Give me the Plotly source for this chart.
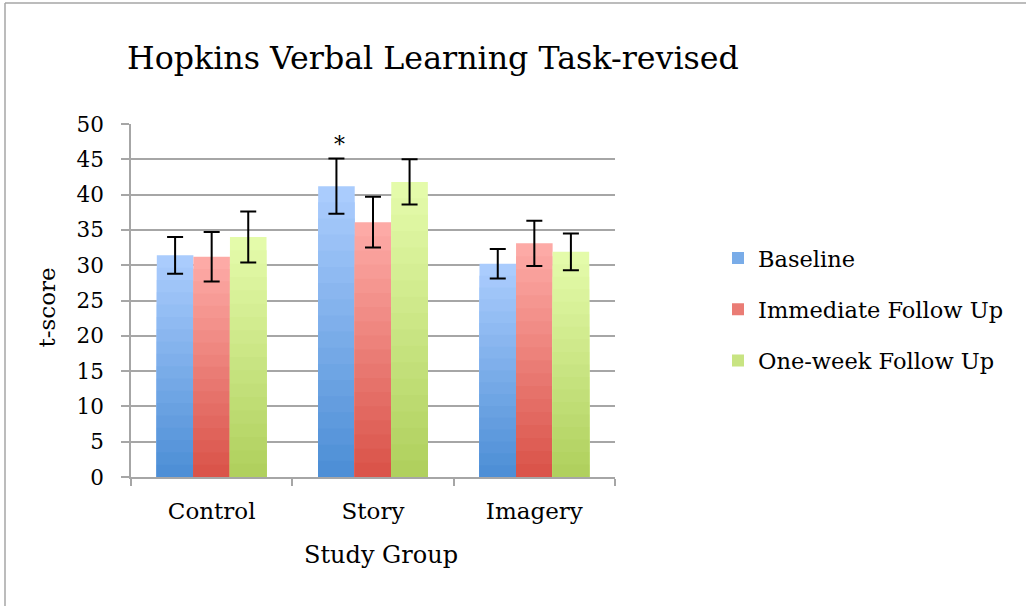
import plotly.graph_objects as go

categories = ["Control", "Story", "Imagery"]
series_names = ["Baseline", "Immediate Follow Up", "One-week Follow Up"]
baseline = [31.4, 41.2, 30.2]
immediate = [31.2, 36.1, 33.1]
one_week = [34.0, 41.8, 31.9]
baseline_err = [2.6, 3.9, 2.1]
immediate_err = [3.5, 3.6, 3.2]
one_week_err = [3.6, 3.2, 2.6]
y_ticks = [0, 5, 10, 15, 20, 25, 30, 35, 40, 45, 50]

values = [baseline, immediate, one_week]
errors = [baseline_err, immediate_err, one_week_err]
top_colors = [(170, 204, 253), (253, 170, 166), (228, 251, 170)]
bottom_colors = [(78, 143, 214), (218, 84, 74), (176, 208, 94)]

FONT = "DejaVu Serif"
N = 18
BARGAP = 0.32
L, R, T, B = 131, 411, 124, 129
W, H = 1026, 606
plot_w = W - L - R
plot_h = H - T - B

fig = go.Figure()
for s, name in enumerate(series_names):
    tc, bc = top_colors[s], bottom_colors[s]
    for k in range(N):
        f = (N - k) / N
        t = k / (N - 1)
        col = tuple(round(tc[i] + (bc[i] - tc[i]) * t) for i in range(3))
        fig.add_trace(go.Bar(
            x=categories,
            y=[v * f for v in values[s]],
            name=name,
            legendgroup=name,
            offsetgroup=str(s),
            showlegend=(k == N // 2),
            marker=dict(color="rgb(%d,%d,%d)" % col, line=dict(width=0)),
            hoverinfo="skip",
        ))
    fig.add_trace(go.Bar(
        x=categories,
        y=values[s],
        name=name,
        legendgroup=name,
        offsetgroup=str(s),
        showlegend=False,
        marker=dict(color="rgba(0,0,0,0)", line=dict(width=0)),
        error_y=dict(type="data", array=errors[s], visible=True,
                     color="black", thickness=2, width=8),
    ))

bar_w = plot_w / len(categories) * (1 - BARGAP) / 3

fig.add_annotation(
    x="Story", y=baseline[1] + baseline_err[1], text="*",
    showarrow=False, yanchor="bottom", xshift=-bar_w + 3, yshift=0,
    font=dict(family=FONT, size=22, color="black"),
)

fig.add_annotation(
    x=0.5, y=-0.22, xref="paper", yref="paper", text="Study Group",
    showarrow=False, xanchor="center", yanchor="middle", xshift=8,
    font=dict(family=FONT, size=24, color="black"),
)
fig.add_annotation(
    x=(47 - L) / plot_w, y=0.48, xref="paper", yref="paper", text="t-score", textangle=-90,
    showarrow=False, xanchor="center", yanchor="middle",
    font=dict(family=FONT, size=23, color="black"),
)

# chart border (left and top edges visible in reference)
bx = (5 - L) / plot_w
by = (H - B - 3) / plot_h
fig.add_shape(type="line", xref="paper", yref="paper",
              x0=bx, x1=bx, y0=-0.5, y1=by,
              line=dict(color="#a6a6a6", width=1.5))
fig.add_shape(type="line", xref="paper", yref="paper",
              x0=bx, x1=1.9, y0=by, y1=by,
              line=dict(color="#a6a6a6", width=1.5))

fig.update_layout(
    width=W, height=H,
    margin=dict(l=L, r=R, t=T, b=B),
    paper_bgcolor="white", plot_bgcolor="white",
    barmode="group", bargap=BARGAP, bargroupgap=0,
    font=dict(family=FONT, size=22, color="black"),
    title=dict(text="Hopkins Verbal Learning Task-revised",
               x=127 / W, xanchor="left", xref="container",
               y=1 - 58 / H, yanchor="middle", yref="container",
               font=dict(family=FONT, size=31.7, color="black")),
    legend=dict(x=(718 - L) / plot_w, xanchor="left", y=0.475, yanchor="middle",
                traceorder="grouped", tracegroupgap=19,
                font=dict(family=FONT, size=22.5, color="black"),
                bgcolor="rgba(0,0,0,0)"),
    showlegend=True,
)
fig.update_xaxes(
    showline=True, linecolor="#a6a6a6", linewidth=1.5,
    ticks="outside", tickson="boundaries", ticklen=7, tickcolor="#a6a6a6", tickwidth=1.5,
    tickfont=dict(family=FONT, size=23), showgrid=False, ticklabelstandoff=13,
)
fig.update_yaxes(
    range=[0, 50], tickvals=y_ticks, showline=True, linecolor="#a6a6a6", linewidth=1.5,
    ticks="outside", ticklen=8, tickcolor="#a6a6a6", tickwidth=1.5,
    showgrid=True, gridcolor="#a6a6a6", gridwidth=1.5, zeroline=False,
    tickfont=dict(family=FONT, size=21.5), ticklabelstandoff=13,
)

fig.write_html("out.html", config={"displayModeBar": False},
               post_script="document.body.style.margin='0';")
